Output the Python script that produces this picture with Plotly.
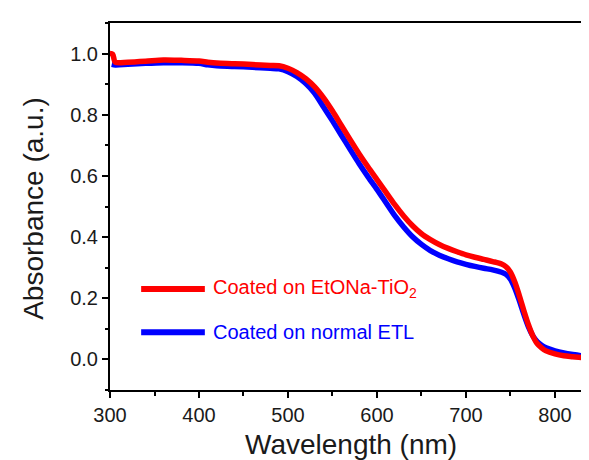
import plotly.graph_objects as go

# ---- data ----
wl_red = [300, 303, 306, 320, 340, 360, 380, 400, 410, 420, 440, 460, 480, 490,
          500, 510, 520, 530, 540, 550, 560, 570, 580, 590, 600, 610, 620, 630,
          640, 650, 660, 670, 680, 690, 700, 710, 720, 730, 740, 745, 750, 755,
          760, 765, 770, 775, 780, 785, 790, 800, 810, 820, 830, 845]
abs_red = [1.000, 0.998, 0.972, 0.972, 0.975, 0.979, 0.978, 0.976, 0.972, 0.969,
           0.967, 0.964, 0.961, 0.960, 0.952, 0.938, 0.918, 0.891, 0.855, 0.812,
           0.765, 0.718, 0.672, 0.629, 0.588, 0.547, 0.506, 0.469, 0.437, 0.411,
           0.392, 0.376, 0.363, 0.352, 0.342, 0.334, 0.327, 0.320, 0.312, 0.303,
           0.285, 0.252, 0.208, 0.160, 0.115, 0.078, 0.052, 0.038, 0.028, 0.018,
           0.012, 0.009, 0.006, 0.004]

wl_blue = [302, 306, 320, 340, 360, 380, 400, 410, 420, 440, 460, 480, 490,
           500, 510, 520, 530, 540, 550, 560, 570, 580, 590, 600, 610, 620, 630,
           640, 650, 660, 670, 680, 690, 700, 710, 720, 730, 740, 745, 750, 755,
           760, 765, 770, 775, 780, 785, 790, 800, 810, 820, 830, 845]
abs_blue = [0.965, 0.963, 0.965, 0.968, 0.970, 0.970, 0.968, 0.963, 0.960, 0.958,
            0.955, 0.952, 0.950, 0.941, 0.925, 0.902, 0.870, 0.825, 0.780, 0.733,
            0.686, 0.640, 0.597, 0.556, 0.513, 0.470, 0.433, 0.401, 0.376, 0.356,
            0.341, 0.329, 0.319, 0.311, 0.304, 0.298, 0.293, 0.285, 0.278, 0.262,
            0.232, 0.192, 0.148, 0.108, 0.078, 0.058, 0.046, 0.038, 0.028, 0.021,
            0.016, 0.012, 0.008]

name_red = "Coated on EtONa-TiO<sub>2</sub>"
name_blue = "Coated on normal ETL"

x_range = [300, 845]
y_range = [-0.1, 1.1]

FONT = "Liberation Sans, Arial, sans-serif"
INK = "#1a1a1a"

fig = go.Figure()
fig.add_trace(go.Scatter(x=wl_blue, y=abs_blue, mode="lines", name=name_blue,
                         line=dict(color="#0000ff", width=5.5, shape="spline", smoothing=0.8),
                         showlegend=False))
fig.add_trace(go.Scatter(x=wl_red, y=abs_red, mode="lines", name=name_red,
                         line=dict(color="#ff0000", width=5.5, shape="spline", smoothing=0.8),
                         showlegend=False))

# plot area geometry (pixels)
W, H = 589, 460
L, T, R, B = 101.7, 15, 0, 78.3
pw = W - L - R
ph = H - T - B

def px_to_paper_x(px):
    return (px - L) / pw

def px_to_paper_y(py):
    return (H - B - py) / ph

# legend drawn manually
legend_items = [(name_red, "#ff0000", 280.7), (name_blue, "#0000ff", 324.0)]
for text, col, ypx in legend_items:
    yy = px_to_paper_y(ypx)
    fig.add_shape(type="line", xref="paper", yref="paper",
                  x0=px_to_paper_x(133), x1=px_to_paper_x(197), y0=yy, y1=yy,
                  line=dict(color=col, width=6))
    fig.add_annotation(xref="paper", yref="paper", x=px_to_paper_x(203), y=yy,
                       xanchor="left", yanchor="middle", text=text, showarrow=False,
                       font=dict(family=FONT, size=20, color=col))

# axis titles
fig.add_annotation(xref="paper", yref="paper", x=px_to_paper_x(344), y=px_to_paper_y(436),
                   xanchor="center", yanchor="middle", text="Wavelength (nm)",
                   showarrow=False, font=dict(family=FONT, size=28, color=INK))
fig.add_annotation(xref="paper", yref="paper", x=px_to_paper_x(24), y=px_to_paper_y(200),
                   xanchor="center", yanchor="middle", text="Absorbance (a.u.)",
                   textangle=-90, showarrow=False, font=dict(family=FONT, size=28, color=INK))

axis_common = dict(showline=True, linecolor="black", linewidth=2, mirror=True,
                   ticks="outside", ticklen=6, tickwidth=2, tickcolor="black",
                   showgrid=False, zeroline=False,
                   tickfont=dict(family=FONT, size=20, color=INK))

fig.update_xaxes(range=x_range, dtick=100, tick0=300,
                 minor=dict(dtick=50, ticks="outside", ticklen=3.5, tickwidth=2, tickcolor="black"),
                 **axis_common)
fig.update_yaxes(range=y_range, dtick=0.2, tick0=0, tickformat=".1f",
                 minor=dict(dtick=0.1, ticks="outside", ticklen=3.5, tickwidth=2, tickcolor="black"),
                 **axis_common)

fig.update_layout(width=W, height=H, margin=dict(l=L, r=R, t=T, b=B, pad=0),
                  paper_bgcolor="white", plot_bgcolor="white", showlegend=False)

fig.write_html("out.html")
